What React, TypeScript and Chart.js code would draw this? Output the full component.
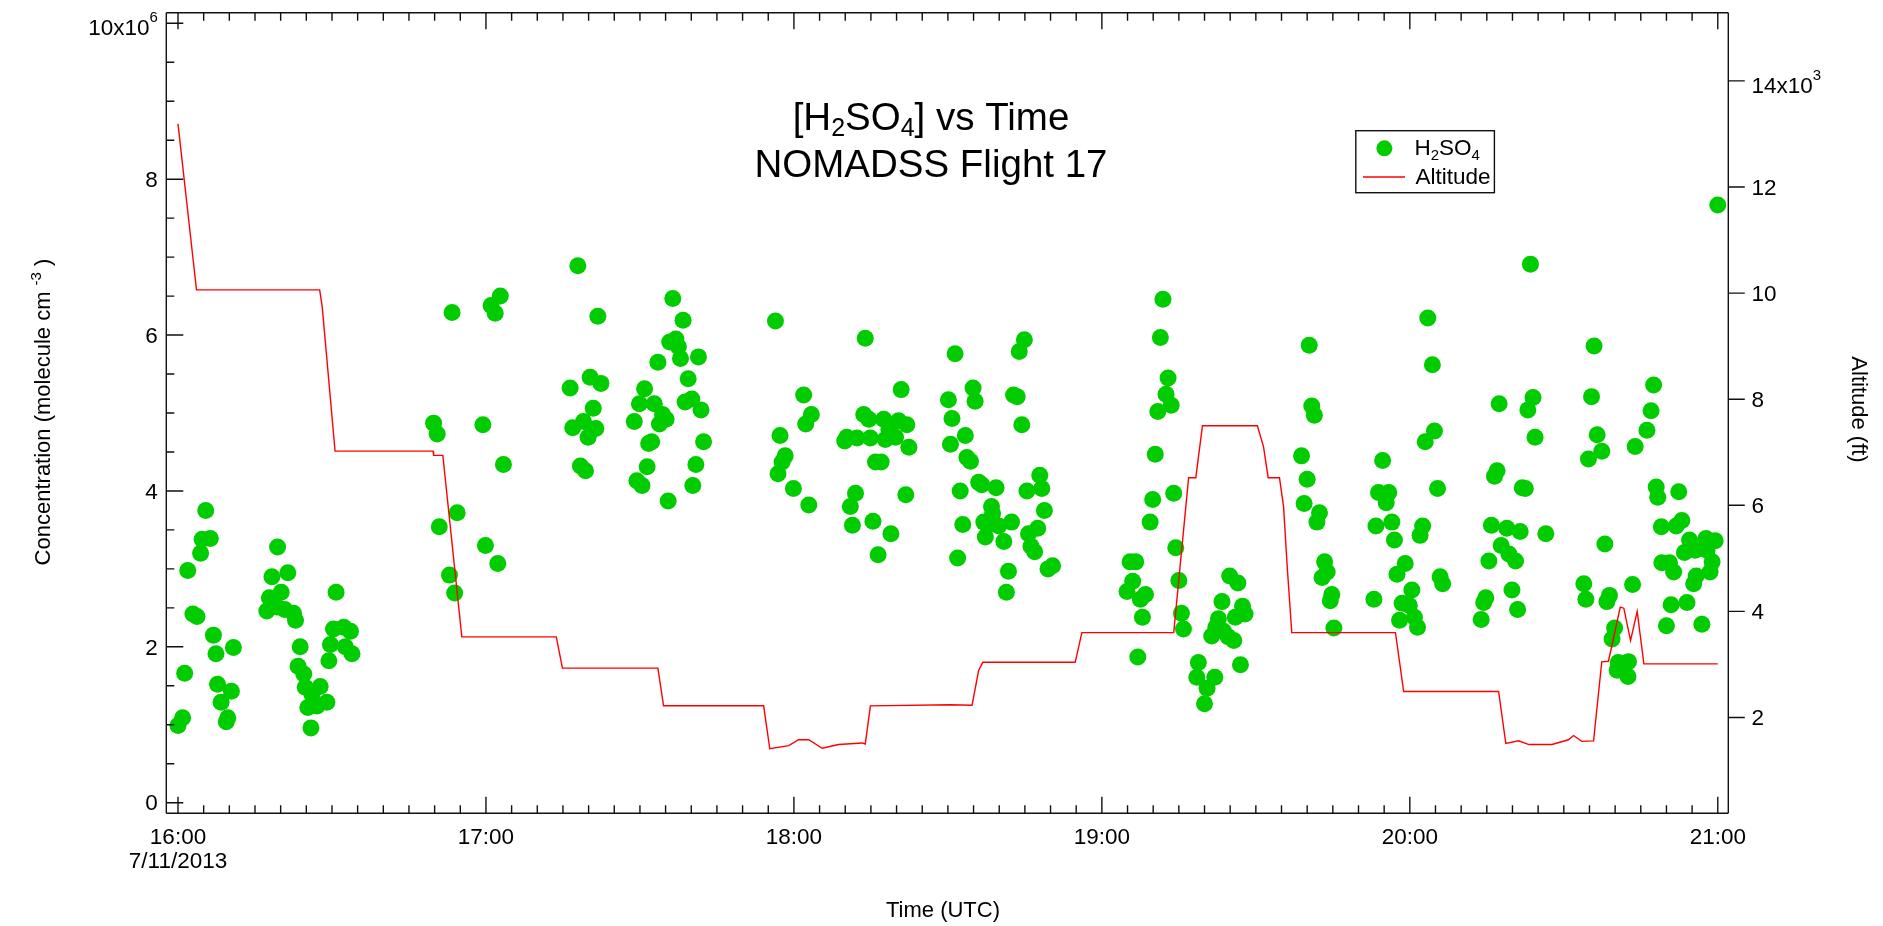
import React, { useEffect, useRef } from 'react';
import { Chart, registerables } from 'chart.js';

Chart.register(...registerables);

const W = 1883;
const H = 926;
const FONT = '"Liberation Sans", Arial, Helvetica, sans-serif';

// H2SO4 samples: minutes after 16:00 UTC and concentration in 10^6 molecule cm^-3
const sampleMinutes = [
  0.0, 0.9, 1.3, 1.9, 2.9, 3.7, 4.4, 4.7, 6.3, 5.4, 6.9, 7.4, 7.7, 8.4, 9.4, 9.7, 10.4, 10.8,
  19.4, 18.3, 21.4, 20.1, 17.8, 17.3, 19.3, 20.8, 22.5, 22.9, 23.8, 23.4, 24.5, 24.8, 27.7, 26.1, 29.0, 25.3, 27.1, 25.9, 30.8, 30.3, 32.3, 33.6, 29.7, 32.6, 33.9, 29.4,
  49.8, 50.5, 53.4, 50.9, 54.4, 52.9, 53.9, 59.4, 59.9, 61.0, 62.8, 61.8, 63.4, 62.3,
  77.9, 81.8, 76.4, 80.3, 82.4, 80.9, 76.9, 79.0, 81.4, 79.9, 78.4, 79.4,
  96.4, 98.4, 97.0, 95.8, 97.5, 93.5, 97.9, 101.4, 99.4, 90.9, 89.9, 92.8, 98.8, 100.1, 101.9, 88.9, 94.4, 95.1, 93.8, 92.3, 91.7, 102.4, 91.4, 100.9, 89.4, 90.4, 100.3, 95.5,
  116.4, 121.9, 123.4, 122.3, 117.3, 118.3, 117.7, 116.9, 119.9, 122.9,
  133.9, 140.9, 133.6, 134.6, 137.5, 140.4, 142.0, 138.5, 139.8, 129.9, 132.3, 134.9, 130.3, 137.8, 142.4, 135.9, 137.0, 132.0, 131.0, 141.8, 135.4, 131.4, 138.9, 136.4,
  151.4, 150.1, 150.8, 150.5, 153.4, 153.7, 154.4, 152.4, 152.9, 151.9, 154.9, 155.3, 156.0, 156.6, 159.4, 158.5, 158.7, 157.0, 158.1, 159.9,
  162.4, 157.3, 160.9, 161.8, 161.4, 163.9, 164.9, 162.8, 163.5, 164.4, 167.9, 168.3, 165.4, 168.8, 167.5, 165.7, 166.2, 166.9, 169.5, 170.4,
  185.5, 186.6, 186.0, 184.9, 188.5, 187.5, 187.9, 187.0, 191.9, 191.4, 192.9, 192.5, 193.5, 190.9, 190.4, 189.9, 189.4, 194.0, 194.4, 195.0, 195.5, 195.9,
  204.9, 206.5, 203.4, 207.4, 207.9, 206.0, 202.7, 202.2, 203.7, 204.6, 205.7, 201.4, 207.0, 198.8, 198.5, 202.0, 200.5, 200.0,
  220.4, 220.9, 221.4, 218.9, 220.0, 219.4, 222.4, 221.9, 223.4, 223.9, 222.9, 224.8, 224.5, 225.2,
  233.0, 234.7, 233.9, 235.9, 235.4, 233.4, 236.5, 237.0, 239.1, 237.5, 240.4, 238.5, 239.9, 238.0, 240.9, 241.5, 243.5, 244.4, 244.8, 243.0, 245.4, 242.5, 242.0, 245.9, 246.4,
  257.4, 264.0, 263.0, 264.4, 263.5, 257.0, 256.5, 261.9, 262.5, 255.9, 258.9, 261.5, 266.5, 257.8, 259.3, 260.6, 255.4, 259.9, 254.8, 254.4, 261.0, 253.9,
  275.9, 275.4, 276.5, 277.4, 274.8, 278.0, 273.9, 274.3, 278.9, 278.4, 283.4, 279.9, 279.4, 280.6, 282.6, 280.4, 282.5,
  287.5, 287.0, 286.2, 283.9, 288.0, 288.3, 292.4, 289.0, 293.0, 291.9, 294.5, 297.7, 299.5, 293.5, 295.6, 297.9, 289.1, 290.6, 298.9, 291.4, 295.8, 298.5, 295.3, 290.9, 294.0, 290.0, 296.9, 300.0,
];

const h2so4 = [
  0.99, 1.09, 1.66, 2.98, 2.42, 2.39, 3.20, 3.38, 3.39, 3.75, 2.15, 1.91, 1.52, 1.29, 1.04, 1.09, 1.43, 1.99,
  3.28, 2.90, 2.95, 2.70, 2.63, 2.46, 2.51, 2.48, 2.43, 2.34, 2.00, 1.75, 1.65, 1.48, 1.49, 1.39, 1.29, 1.22, 1.24, 0.96, 2.70, 2.23, 2.25, 2.20, 2.03, 2.00, 1.91, 1.82,
  4.87, 4.73, 6.29, 3.54, 3.72, 2.92, 2.69, 4.85, 3.30, 6.38, 6.50, 6.28, 4.34, 3.07,
  6.89, 6.24, 5.32, 5.46, 5.38, 5.06, 4.81, 4.89, 4.80, 4.69, 4.32, 4.26,
  6.47, 6.19, 5.95, 5.91, 5.85, 5.65, 5.70, 5.72, 5.44, 5.31, 5.12, 5.12, 5.14, 5.18, 5.04, 4.89, 4.98, 4.92, 4.86, 4.63, 4.61, 4.63, 4.31, 4.34, 4.13, 4.07, 4.07, 3.87,
  6.18, 5.23, 4.98, 4.86, 4.71, 4.45, 4.37, 4.22, 4.03, 3.82,
  5.96, 5.30, 4.98, 4.92, 4.92, 4.90, 4.85, 4.79, 4.69, 4.64, 4.68, 4.68, 4.69, 4.66, 4.56, 4.37, 4.37, 3.97, 3.80, 3.95, 3.61, 3.56, 3.45, 3.18,
  5.76, 5.17, 4.93, 4.60, 4.71, 4.43, 4.38, 4.00, 3.57, 3.14, 5.32, 5.15, 4.11, 4.08, 4.04, 3.80, 3.71, 3.60, 3.57, 3.55,
  3.60, 3.41, 3.35, 2.97, 2.70, 5.79, 5.94, 5.23, 5.21, 4.85, 4.20, 4.03, 4.00, 3.75, 3.52, 3.45, 3.29, 3.22, 3.00, 3.04,
  3.09, 3.09, 2.84, 2.71, 2.67, 2.61, 2.38, 1.87, 6.46, 5.97, 5.45, 5.24, 5.10, 5.02, 4.47, 3.89, 3.60, 3.97, 3.27, 2.85, 2.43, 2.23,
  2.91, 2.82, 2.58, 2.52, 2.42, 2.38, 2.36, 2.25, 2.20, 2.13, 2.08, 2.14, 1.77, 1.80, 1.61, 1.61, 1.47, 1.27,
  5.87, 5.09, 4.97, 4.45, 4.15, 3.84, 3.72, 3.60, 3.09, 2.96, 2.89, 2.67, 2.59, 2.24,
  2.61, 4.39, 3.98, 3.98, 3.85, 3.55, 3.60, 3.37, 3.07, 2.93, 2.73, 2.56, 2.53, 2.34, 2.38, 2.25, 6.22, 5.62, 4.77, 4.63, 4.03, 3.55, 3.43, 2.90, 2.81,
  5.12, 5.20, 5.04, 4.69, 6.91, 4.26, 4.19, 4.04, 4.03, 3.56, 3.52, 3.48, 3.45, 3.30, 3.19, 3.10, 3.10, 2.73, 2.63, 2.57, 2.48, 2.35,
  5.86, 5.21, 4.72, 4.51, 4.41, 3.32, 2.81, 2.61, 2.66, 2.58, 2.80, 2.24, 2.10, 1.80, 1.81, 1.70, 1.62,
  5.36, 5.03, 4.78, 4.57, 4.05, 3.92, 3.99, 3.54, 3.62, 3.55, 3.37, 3.39, 3.36, 3.21, 3.24, 3.24, 3.08, 3.08, 3.09, 2.96, 2.91, 2.96, 2.81, 2.54, 2.57, 2.27, 2.29, 7.67,
];

// Flight altitude track: minutes after 16:00 UTC and altitude in 10^3 ft
const altMinutes = [
  0, 3.6, 27.6, 28.1, 30.6, 49.7, 49.8, 51.6, 55.3, 73.7,
  74.9, 93.5, 94.6, 114.1, 115.3, 119.0, 120.9, 122.9, 125.5, 128.7,
  133.3, 133.9, 134.9, 150.5, 154.7, 156.0, 156.8, 174.8, 176.1, 194.0,
  196.9, 198.3, 199.6, 210.3, 211.5, 212.4, 214.6, 215.4, 216.1, 217.0,
  237.2, 238.8, 257.3, 258.7, 261.2, 263.2, 267.7, 270.9, 271.9, 273.5,
  275.8, 277.4, 278.7, 281.0, 281.7, 283.0, 284.3, 285.6, 300.0,
];
const altKft = [
  13.19, 10.06, 10.06, 9.74, 7.02, 7.02, 6.94, 6.94, 3.52, 3.52,
  2.93, 2.93, 2.22, 2.22, 1.41, 1.47, 1.58, 1.58, 1.42, 1.49,
  1.52, 1.50, 2.22, 2.24, 2.23, 2.89, 3.04, 3.04, 3.60, 3.60,
  6.52, 6.52, 7.50, 7.50, 7.10, 6.52, 6.52, 5.98, 4.86, 3.60,
  3.60, 2.49, 2.49, 1.51, 1.56, 1.49, 1.49, 1.58, 1.66, 1.55,
  1.56, 3.05, 3.06, 4.08, 4.06, 3.45, 4.00, 3.01, 3.01,
];

const concTicks = [0, 2, 4, 6, 8, 10];
const altTicks = [2, 4, 6, 8, 10, 12, 14];
const hourTicks = [0, 60, 120, 180, 240, 300];
const hourLabels = ['16:00', '17:00', '18:00', '19:00', '20:00', '21:00'];
const dateLabel = '7/11/2013';

const GREEN = '#00cc00';
const RED = '#ff0000';

type Seg = { t: string; size: number; dy?: number };

function segsWidth(ctx: CanvasRenderingContext2D, segs: Seg[]) {
  let w = 0;
  for (const s of segs) {
    ctx.font = `${s.size}px ${FONT}`;
    w += ctx.measureText(s.t).width;
  }
  return w;
}

function drawSegs(ctx: CanvasRenderingContext2D, segs: Seg[], x: number, y: number) {
  let cx = x;
  for (const s of segs) {
    ctx.font = `${s.size}px ${FONT}`;
    ctx.fillText(s.t, cx, y + (s.dy || 0));
    cx += ctx.measureText(s.t).width;
  }
}

function seg(ctx: CanvasRenderingContext2D, x1: number, y1: number, x2: number, y2: number) {
  ctx.moveTo(x1, y1);
  ctx.lineTo(x2, y2);
}

const frameAndText = {
  id: 'frameAndText',
  afterDraw(chart: any) {
    const { ctx, chartArea: a, scales } = chart;
    const xs = scales.x;
    const ys = scales.y;
    const ys2 = scales.y2;
    ctx.save();
    ctx.textAlign = 'left';
    ctx.textBaseline = 'alphabetic';

    // frame and ticks
    ctx.strokeStyle = '#111';
    ctx.lineWidth = 1.4;
    ctx.beginPath();
    seg(ctx, a.left, a.top, a.left, a.bottom);
    seg(ctx, a.left, a.bottom, a.right, a.bottom);
    seg(ctx, a.left, a.top, a.right, a.top);
    seg(ctx, a.right, a.top, a.right, a.bottom);
    for (let v = 0; v <= 10; v += 0.5) {
      const py = ys.getPixelForValue(v);
      const len = v % 2 === 0 ? 17 : 8;
      seg(ctx, a.left, py, a.left + len, py);
    }
    for (const v of altTicks) {
      const py = ys2.getPixelForValue(v);
      seg(ctx, a.right, py, a.right + 16.5, py);
    }
    for (let m = 0; m <= 300; m += 5) {
      const px = xs.getPixelForValue(m);
      const len = m % 60 === 0 ? 16.5 : 8;
      seg(ctx, px, a.bottom, px, a.bottom - len);
      seg(ctx, px, a.top, px, a.top + len);
    }
    ctx.stroke();

    ctx.fillStyle = '#000';
    const TS = 22.5;
    const SUP = 15;

    // left tick labels
    for (const v of concTicks) {
      const py = ys.getPixelForValue(v);
      const segs: Seg[] = v === 10
        ? [{ t: '10x10', size: TS }, { t: '6', size: SUP, dy: -13 }]
        : [{ t: String(v), size: TS }];
      const w = segsWidth(ctx, segs);
      drawSegs(ctx, segs, 157.8 - w, py + (v === 10 ? 11.7 : 7.7));
    }
    // right tick labels
    for (const v of altTicks) {
      const py = ys2.getPixelForValue(v);
      const segs: Seg[] = v === 14
        ? [{ t: '14x10', size: TS }, { t: '3', size: SUP, dy: -13 }]
        : [{ t: String(v), size: TS }];
      drawSegs(ctx, segs, 1751.5, py + (v === 14 ? 11.7 : 7.7));
    }
    // bottom tick labels
    ctx.font = `${TS}px ${FONT}`;
    ctx.textAlign = 'center';
    hourTicks.forEach((m, i) => {
      const px = xs.getPixelForValue(m);
      ctx.fillText(hourLabels[i], px, 843.7);
      if (i === 0) ctx.fillText(dateLabel, px, 868);
    });

    // axis titles
    ctx.font = `22px ${FONT}`;
    ctx.fillText('Time (UTC)', 943, 917);
    ctx.textAlign = 'left';

    const leftTitle: Seg[] = [
      { t: 'Concentration (molecule cm ', size: 22 },
      { t: '-3', size: SUP, dy: -9 },
      { t: ' )', size: 22 },
    ];
    ctx.save();
    ctx.translate(42, 412);
    ctx.rotate(-Math.PI / 2);
    drawSegs(ctx, leftTitle, -segsWidth(ctx, leftTitle) / 2, 7.9);
    ctx.restore();

    ctx.save();
    ctx.translate(1860, 409.5);
    ctx.rotate(Math.PI / 2);
    const rightTitle: Seg[] = [{ t: 'Altitude (ft)', size: 22 }];
    drawSegs(ctx, rightTitle, -segsWidth(ctx, rightTitle) / 2, 7.9);
    ctx.restore();

    // title
    const t1: Seg[] = [
      { t: '[H', size: 38.5 },
      { t: '2', size: 25, dy: 6 },
      { t: 'SO', size: 38.5 },
      { t: '4', size: 25, dy: 6 },
      { t: '] vs Time', size: 38.5 },
    ];
    const t2: Seg[] = [{ t: 'NOMADSS Flight 17', size: 38.5 }];
    drawSegs(ctx, t1, 931 - segsWidth(ctx, t1) / 2, 130);
    drawSegs(ctx, t2, 931 - segsWidth(ctx, t2) / 2, 176.7);

    // legend
    ctx.strokeStyle = '#111';
    ctx.lineWidth = 1.4;
    ctx.strokeRect(1355.8, 130.7, 138.6, 62);
    ctx.fillStyle = GREEN;
    ctx.beginPath();
    ctx.arc(1384.4, 148.3, 8, 0, Math.PI * 2);
    ctx.fill();
    ctx.strokeStyle = RED;
    ctx.lineWidth = 1.4;
    ctx.beginPath();
    seg(ctx, 1363, 177, 1405, 177);
    ctx.stroke();
    ctx.fillStyle = '#000';
    drawSegs(ctx, [
      { t: 'H', size: 22.5 },
      { t: '2', size: SUP, dy: 5 },
      { t: 'SO', size: 22.5 },
      { t: '4', size: SUP, dy: 5 },
    ], 1414.5, 155);
    drawSegs(ctx, [{ t: 'Altitude', size: 22.5 }], 1415.5, 184);

    ctx.restore();
  },
};

export default function App() {
  const canvasRef = useRef<HTMLCanvasElement | null>(null);

  useEffect(() => {
    const canvas = canvasRef.current;
    if (!canvas) return;
    const n = Math.min(sampleMinutes.length, h2so4.length);
    const concPoints = [];
    for (let i = 0; i < n; i++) concPoints.push({ x: sampleMinutes[i], y: h2so4[i] });
    const m = Math.min(altMinutes.length, altKft.length);
    const altPoints = [];
    for (let i = 0; i < m; i++) altPoints.push({ x: altMinutes[i], y: altKft[i] });

    const chart = new Chart(canvas, {
      type: 'scatter',
      data: {
        datasets: [
          {
            type: 'line',
            label: 'Altitude',
            data: altPoints,
            yAxisID: 'y2',
            borderColor: RED,
            backgroundColor: RED,
            borderWidth: 1.4,
            pointRadius: 0,
            fill: false,
            tension: 0,
            order: 0,
            clip: false,
          } as any,
          {
            type: 'scatter',
            label: 'H2SO4',
            data: concPoints,
            yAxisID: 'y',
            backgroundColor: GREEN,
            borderColor: GREEN,
            pointBackgroundColor: GREEN,
            pointRadius: 8.5,
            pointBorderWidth: 0,
            borderWidth: 0,
            order: 1,
            clip: false,
          } as any,
        ],
      },
      options: {
        responsive: false,
        animation: false,
        devicePixelRatio: 1,
        layout: { padding: { left: 166.3, right: W - 1728.3, top: 12.7, bottom: H - 813.3 } },
        scales: {
          x: { type: 'linear', min: -2.28, max: 302.05, display: false },
          y: { type: 'linear', min: -0.136, max: 10.136, display: false },
          y2: { type: 'linear', position: 'right', min: 0.194, max: 15.285, display: false },
        },
        plugins: { legend: { display: false }, tooltip: { enabled: false } },
        events: [],
      },
      plugins: [frameAndText],
    });
    return () => chart.destroy();
  }, []);

  return (
    <div style={{ position: 'fixed', left: 0, top: 0, width: W, height: H, background: '#fff' }}>
      <canvas ref={canvasRef} width={W} height={H} style={{ display: 'block', width: W, height: H }} />
    </div>
  );
}
